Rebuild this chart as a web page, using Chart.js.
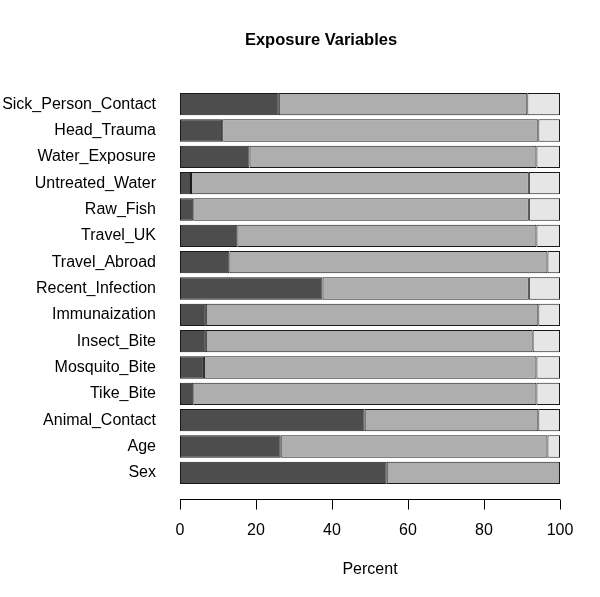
<!DOCTYPE html>
<html>
<head>
<meta charset="utf-8">
<script src="https://cdn.jsdelivr.net/npm/chart.js@4.4.1/dist/chart.umd.min.js"></script>
<style>
  html, body { margin: 0; padding: 0; background: #fff; }
  #wrap { width: 600px; height: 597px; }
</style>
</head>
<body>
<div id="wrap"><canvas id="chart" width="600" height="597"></canvas></div>
<script>
// categories top to bottom, as in the picture
const categories = [
  "Sick_Person_Contact", "Head_Trauma", "Water_Exposure", "Untreated_Water", "Raw_Fish",
  "Travel_UK", "Travel_Abroad", "Recent_Infection", "Immunaization", "Insect_Bite",
  "Mosquito_Bite", "Tike_Bite", "Animal_Contact", "Age", "Sex"
];
// percent in each segment (dark, mid grey, light grey)
const darkPct  = [26.0, 11.1, 18.3, 2.9, 3.5, 15.1, 13.0, 37.5, 6.8, 6.8, 6.3, 3.5, 48.6, 26.5, 54.4];
const midPct   = [65.4, 83.2, 75.5, 88.9, 88.3, 78.7, 83.7, 54.3, 87.5, 86.0, 87.5, 90.3, 45.7, 70.2, 45.6];
const lightPct = [8.6, 5.7, 6.2, 8.2, 8.2, 6.2, 3.3, 8.2, 5.7, 7.2, 6.2, 6.2, 5.7, 3.3, 0];
const xTicks = [0, 20, 40, 60, 80, 100];

const FONT = "'Liberation Sans', Arial, Helvetica, sans-serif";

// R style axis below the plot, plus title and axis label
const rAxis = {
  id: "rAxis",
  afterDraw(chart) {
    const ctx = chart.ctx;
    const x = chart.scales.x;
    const area = chart.chartArea;
    const y0 = area.bottom + 13.5;
    ctx.save();
    ctx.strokeStyle = "#000";
    ctx.lineWidth = 1;
    ctx.beginPath();
    ctx.moveTo(x.getPixelForValue(xTicks[0]), y0);
    ctx.lineTo(x.getPixelForValue(xTicks[xTicks.length - 1]), y0);
    xTicks.forEach(t => {
      const px = Math.round(x.getPixelForValue(t)) + 0.5;
      ctx.moveTo(px, y0);
      ctx.lineTo(px, y0 + 10);
    });
    ctx.stroke();

    ctx.fillStyle = "#000";
    ctx.font = "16px " + FONT;
    ctx.textAlign = "center";
    ctx.textBaseline = "middle";
    xTicks.forEach(t => ctx.fillText(String(t), x.getPixelForValue(t), y0 + 31));
    ctx.fillText("Percent", (area.left + area.right) / 2, y0 + 70);

    ctx.font = "bold 16.5px " + FONT;
    ctx.fillText("Exposure Variables", 321, 40);
    ctx.restore();
  }
};

const ctx = document.getElementById("chart").getContext("2d");
new Chart(ctx, {
  type: "bar",
  data: {
    labels: categories,
    datasets: [
      { label: "dark", data: darkPct, backgroundColor: "#4D4D4D" },
      { label: "mid", data: midPct, backgroundColor: "#AEAEAE" },
      { label: "light", data: lightPct, backgroundColor: "#E6E6E6" }
    ]
  },
  options: {
    indexAxis: "y",
    responsive: false,
    animation: false,
    layout: { padding: { left: 0, right: 40, top: 91, bottom: 111 } },
    datasets: {
      bar: {
        categoryPercentage: 1,
        barPercentage: 0.85,
        borderColor: "#1a1a1a",
        borderWidth: 1,
        borderSkipped: false
      }
    },
    scales: {
      x: { stacked: true, min: 0, max: 100, display: false },
      y: {
        stacked: true,
        afterFit(scale) { scale.width = 180; },
        grid: { display: false, drawTicks: false },
        border: { display: false },
        ticks: { color: "#000", padding: 24, font: { family: FONT, size: 16 } }
      }
    },
    plugins: {
      legend: { display: false },
      tooltip: { enabled: false },
      title: { display: false }
    }
  },
  plugins: [rAxis]
});
</script>
</body>
</html>
